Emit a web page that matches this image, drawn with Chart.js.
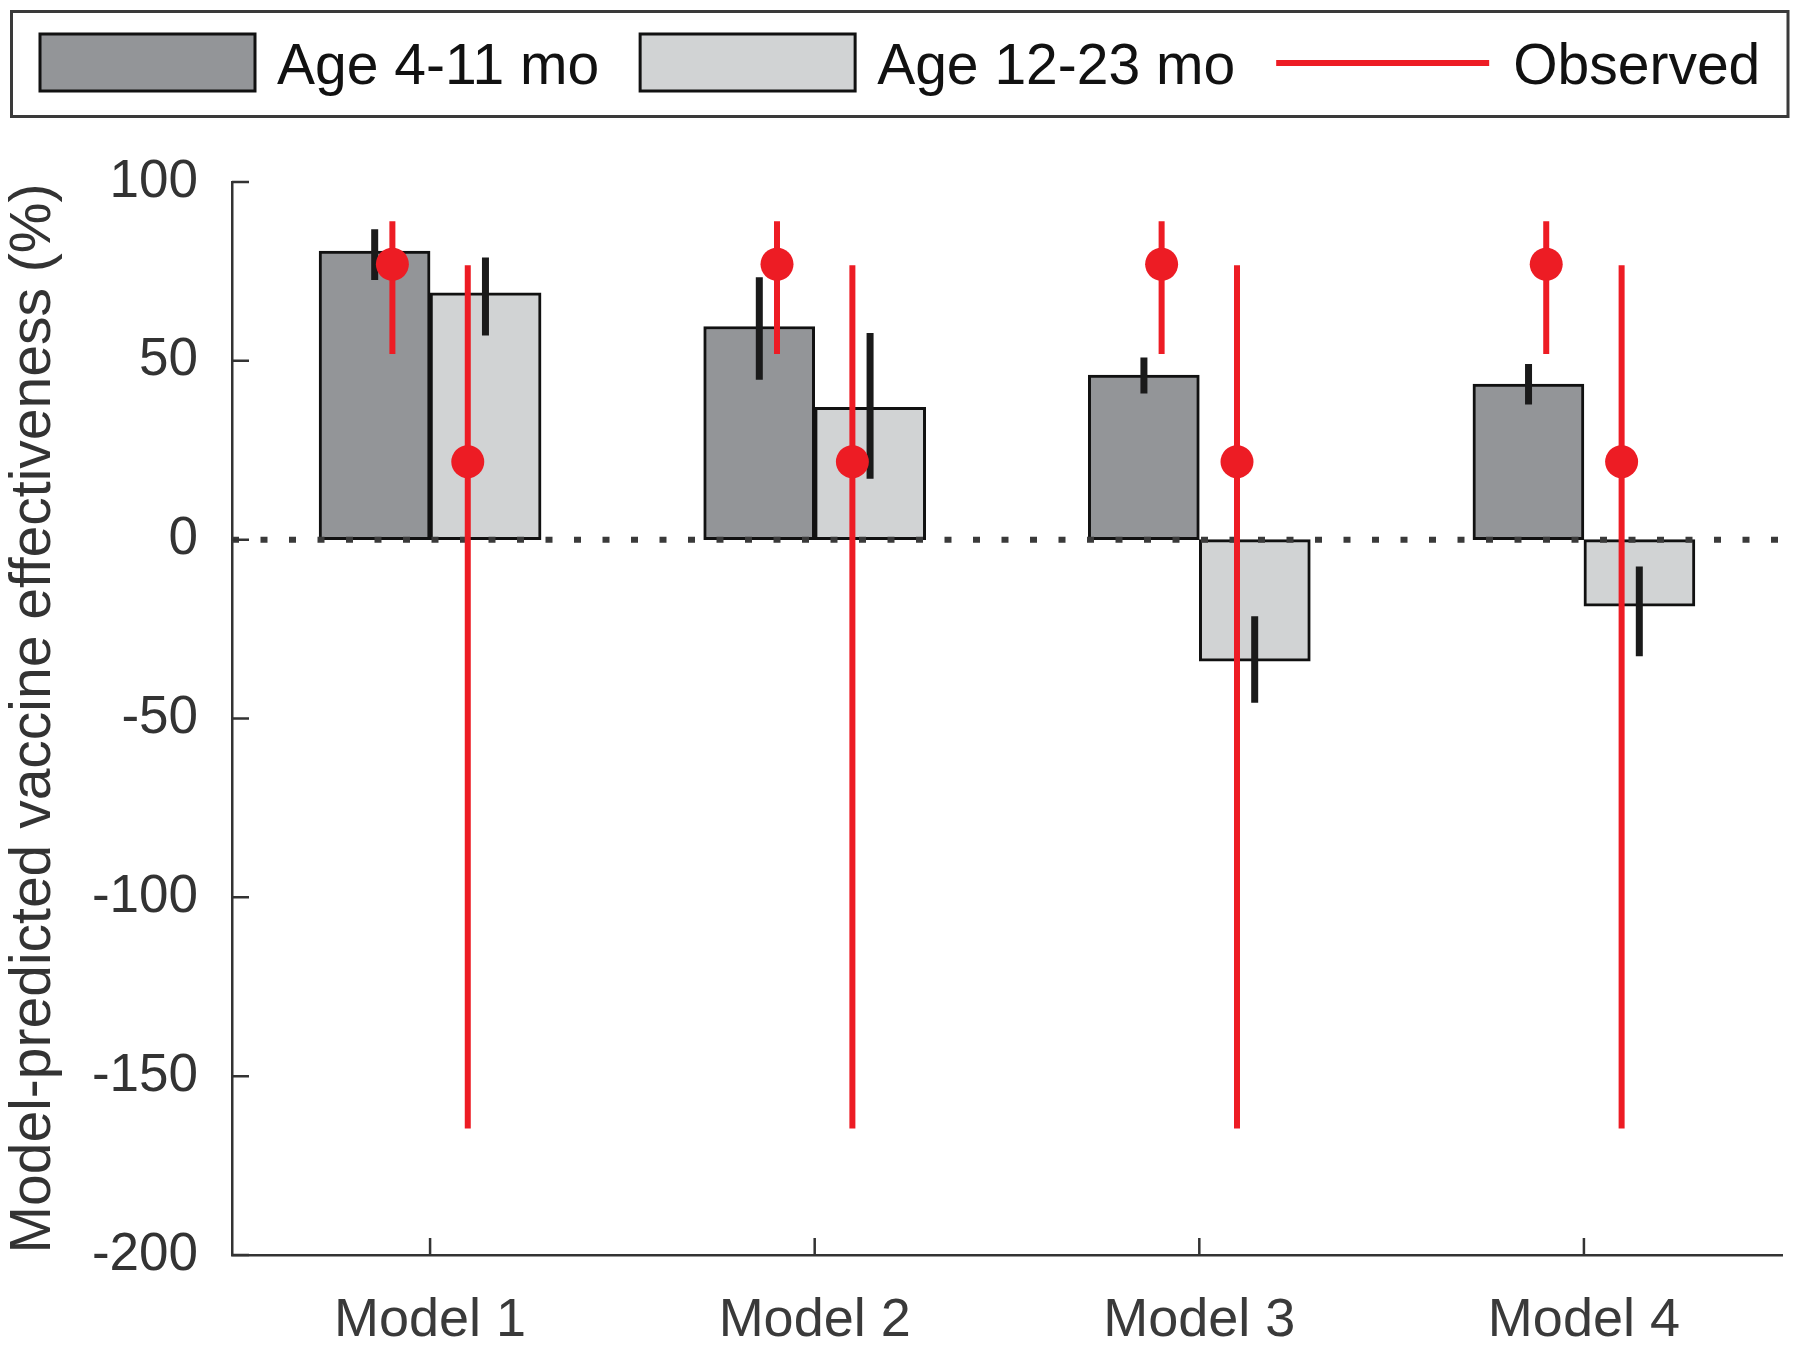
<!DOCTYPE html>
<html lang="en">
  <head>
    <meta charset="UTF-8" />
    <title>Model-predicted vaccine effectiveness</title>
    <script src="https://cdn.jsdelivr.net/npm/chart.js"></script>
    <style>
      body {
        margin: 0;
        background: #ffffff;
      }
      canvas {
        display: block;
      }
    </style>
  </head>
  <body>
    <canvas id="veChart" width="1800" height="1347"></canvas>

    <script>
      // values (%)
      const categories = ["Model 1", "Model 2", "Model 3", "Model 4"];
      const seriesLabels = ["Age 4-11 mo", "Age 12-23 mo", "Observed"];

      const youngVE = [80.7, 59.6, 46.0, 43.5];
      const youngLow = [72.6, 44.7, 40.9, 37.8];
      const youngHigh = [86.8, 73.4, 50.9, 49.1];

      const olderVE = [69.0, 37.0, -34.0, -18.6];
      const olderLow = [57.1, 17.0, -45.6, -32.6];
      const olderHigh = [78.9, 57.8, -21.4, -7.5];

      // observed estimates, same for every model
      const observedYoung = [77.0, 77.0, 77.0, 77.0];
      const observedYoungLow = [51.9, 51.9, 51.9, 51.9];
      const observedYoungHigh = [89.0, 89.0, 89.0, 89.0];
      const observedOlder = [21.8, 21.8, 21.8, 21.8];
      const observedOlderLow = [-164.6, -164.6, -164.6, -164.6];
      const observedOlderHigh = [76.7, 76.7, 76.7, 76.7];

      const yTicks = [-200, -150, -100, -50, 0, 50, 100];
      const zeroLevel = [0, 0];

      const X_MIN = 0.485;
      const X_MAX = 4.515;
      const BAR_SHIFT = 0.144; // centre of each bar from the group centre
      const OBS_SHIFT = 0.098; // observed marks from the group centre

      const FONT = "'Liberation Sans', Arial, Helvetica, sans-serif";
      const RED = "#ed1c24";

      // vertical segments, broken with null so the line has gaps
      function segments(low, high, shift) {
        const pts = [];
        low.forEach((v, i) => {
          const x = i + 1 + shift;
          pts.push({ x: x, y: v }, { x: x, y: high[i] }, { x: x, y: null });
        });
        return pts;
      }

      function points(values, shift) {
        return values.map((v, i) => ({ x: i + 1 + shift, y: v }));
      }

      // small inward tick marks on both axes
      const innerTicks = {
        id: "innerTicks",
        afterDraw(chart) {
          const ctx = chart.ctx;
          const xs = chart.scales.x;
          const ys = chart.scales.y;
          ctx.save();
          ctx.strokeStyle = "#333333";
          ctx.lineWidth = 2.5;
          ctx.beginPath();
          ys.ticks.forEach((t) => {
            const y = ys.getPixelForValue(t.value);
            ctx.moveTo(ys.right, y);
            ctx.lineTo(ys.right + 17, y);
          });
          xs.ticks.forEach((t) => {
            const x = xs.getPixelForValue(t.value);
            ctx.moveTo(x, xs.top);
            ctx.lineTo(x, xs.top - 17);
          });
          ctx.stroke();
          ctx.restore();
        },
      };

      // boxed legend in one row above the plot
      const boxLegend = {
        id: "boxLegend",
        afterDraw(chart) {
          const ctx = chart.ctx;
          ctx.save();
          ctx.strokeStyle = "#3a3a3a";
          ctx.lineWidth = 3;
          ctx.strokeRect(11.5, 11.5, 1776.5, 105);

          ctx.font = "57px " + FONT;
          ctx.textBaseline = "alphabetic";
          let x = 40;
          seriesLabels.forEach((label) => {
            const ds = chart.data.datasets.find((d) => d.label === label);
            if (ds.type === "line") {
              ctx.strokeStyle = ds.borderColor;
              ctx.lineWidth = 6;
              ctx.beginPath();
              ctx.moveTo(x, 63);
              ctx.lineTo(x + 213, 63);
              ctx.stroke();
            } else {
              ctx.fillStyle = ds.backgroundColor;
              ctx.fillRect(x, 34, 215, 57);
              ctx.strokeStyle = ds.borderColor;
              ctx.lineWidth = 3;
              ctx.strokeRect(x, 34, 215, 57);
            }
            x += 215 + 22;
            ctx.fillStyle = "#111111";
            ctx.fillText(label, x, 83.5);
            x += ctx.measureText(label).width + 41;
          });
          ctx.restore();
        },
      };

      const ctx = document.getElementById("veChart").getContext("2d");

      new Chart(ctx, {
        type: "bar",
        data: {
          datasets: [
            {
              type: "scatter",
              label: "",
              data: points(observedYoung, -OBS_SHIFT).concat(
                points(observedOlder, OBS_SHIFT)
              ),
              pointRadius: 16.5,
              pointBackgroundColor: RED,
              pointBorderWidth: 0,
              showLine: false,
              order: 0,
            },
            {
              type: "line",
              label: seriesLabels[2],
              data: segments(observedYoungLow, observedYoungHigh, -OBS_SHIFT).concat(
                segments(observedOlderLow, observedOlderHigh, OBS_SHIFT)
              ),
              borderColor: RED,
              borderWidth: 6,
              pointRadius: 0,
              spanGaps: false,
              order: 1,
            },
            {
              type: "line",
              label: "",
              data: segments(youngLow, youngHigh, -BAR_SHIFT).concat(
                segments(olderLow, olderHigh, BAR_SHIFT)
              ),
              borderColor: "#1a1a1a",
              borderWidth: 7,
              pointRadius: 0,
              spanGaps: false,
              order: 2,
            },
            {
              type: "line",
              label: "",
              data: [
                { x: X_MIN, y: zeroLevel[0] },
                { x: X_MAX, y: zeroLevel[1] },
              ],
              borderColor: "#3a3a3a",
              borderWidth: 6,
              borderDash: [7, 21.5],
              pointRadius: 0,
              order: 3,
            },
            {
              label: seriesLabels[0],
              data: points(youngVE, 0),
              backgroundColor: "#939598",
              borderColor: "#111111",
              borderWidth: 3,
              borderSkipped: false,
              barThickness: 111,
              order: 4,
            },
            {
              label: seriesLabels[1],
              data: points(olderVE, 0),
              backgroundColor: "#d1d3d4",
              borderColor: "#111111",
              borderWidth: 3,
              borderSkipped: false,
              barThickness: 111,
              order: 4,
            },
          ],
        },
        options: {
          responsive: false,
          animation: false,
          devicePixelRatio: 1,
          events: [],
          layout: {
            padding: { top: 182, right: 18, bottom: 0, left: 0 },
          },
          plugins: {
            legend: { display: false },
            tooltip: { enabled: false },
          },
          scales: {
            x: {
              type: "linear",
              min: X_MIN,
              max: X_MAX,
              offset: false,
              grid: { display: false, drawTicks: false },
              border: { display: true, color: "#333333", width: 2.5 },
              afterBuildTicks: (scale) => {
                scale.ticks = categories.map((c, i) => ({ value: i + 1 }));
              },
              afterFit: (scale) => {
                scale.height = 92;
              },
              ticks: {
                autoSkip: false,
                maxRotation: 0,
                padding: 34,
                color: "#3a3a3a",
                font: { family: FONT, size: 54 },
                callback: (value) => categories[Math.round(value) - 1],
              },
            },
            y: {
              min: yTicks[0],
              max: yTicks[yTicks.length - 1],
              grid: { display: false, drawTicks: false },
              border: { display: true, color: "#333333", width: 2.5 },
              afterBuildTicks: (scale) => {
                scale.ticks = yTicks.map((v) => ({ value: v }));
              },
              afterFit: (scale) => {
                scale.width = 232;
              },
              ticks: {
                padding: 34,
                color: "#333333",
                font: { family: FONT, size: 53 },
              },
              title: {
                display: true,
                text: "Model-predicted vaccine effectiveness (%)",
                color: "#333333",
                padding: 0,
                font: { family: FONT, size: 57 },
              },
            },
          },
        },
        plugins: [innerTicks, boxLegend],
      });
    </script>
  </body>
</html>
